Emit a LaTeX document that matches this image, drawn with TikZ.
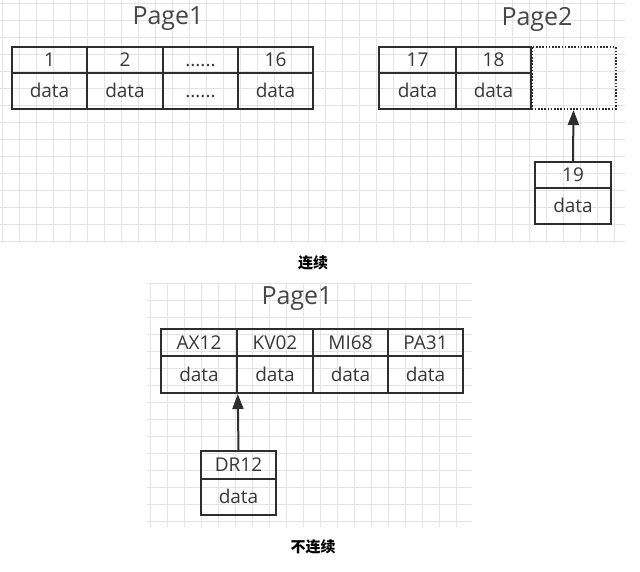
\documentclass[tikz,border=0pt]{standalone}
\usepackage{fontspec}
\setmainfont{Open Sans}
\newfontfamily\cjk{Noto Sans CJK SC}
\usetikzlibrary{arrows.meta}
\begin{document}
\begin{tikzpicture}[x=1pt,y=-1pt,
 gridline/.style={draw=black!11,line width=0.8pt},
 cell/.style={draw=black!82,line width=2pt,minimum width=75.5pt,inner sep=0pt,text height=13.6pt,text depth=0pt,font=\fontsize{19}{19}\selectfont,text=black!78},
 keycell/.style={cell,minimum height=26pt},
 datacell/.style={cell,minimum height=36pt},
 emptycell/.style={draw=black!82,line width=2pt,dash pattern=on 1.6pt off 1.6pt,minimum width=84pt,minimum height=62pt,inner sep=0pt},
 pagetitle/.style={font=\fontsize{25}{25}\selectfont,text=black!72},
 caption/.style={font=\cjk\bfseries\fontsize{15}{15}\selectfont},
 link/.style={draw=black!82,line width=2pt,-{Triangle[length=15pt,width=11pt]}}
]
\useasboundingbox (0,0) rectangle (640,571);
\fill[white] (0,0) rectangle (640,571);
% grids
\foreach \x in {2,19,...,623} \draw[gridline] (\x,0) -- (\x,243);
\foreach \y in {3,20,...,243} \draw[gridline] (0,\y) -- (625,\y);
\foreach \x in {150,167,...,472} \draw[gridline] (\x,283) -- (\x,527);
\foreach \y in {283,300,...,527} \draw[gridline] (147,\y) -- (472,\y);

% top Page1
\node[pagetitle] (t1) at (168,19) {Page1};
\node[keycell] (k1) at (49.5,60) {1};
\node[keycell] (k2) at (125,60) {2};
\node[keycell] (k3) at (200.5,60) {......};
\node[keycell] (k4) at (275.5,60) {16};
\node[datacell] (d1) at (49.5,91) {data};
\node[datacell] (d2) at (125,91) {data};
\node[datacell] (d3) at (200.5,91) {......};
\node[datacell] (d4) at (275.5,91) {data};

% Page2
\node[pagetitle] (t2) at (537,19) {Page2};
\node[keycell,minimum width=77pt] (k17) at (417.5,60) {17};
\node[keycell] (k18) at (493.5,60) {18};
\node[datacell,minimum width=77pt] (d17) at (417.5,91) {data};
\node[datacell] (d18) at (493.5,91) {data};
\node[emptycell] (slot) at (573.5,78) {};
\node[keycell] (k19) at (573,175) {19};
\node[datacell] (d19) at (573,206) {data};
\draw[link] (k19.north) -- (slot.south);

\node[caption] (c1) at (313,263) {连续};

% bottom Page1
\node[pagetitle] (t3) at (297,299) {Page1};
\node[keycell,minimum height=27pt] (ka) at (199,342.5) {AX12};
\node[keycell,minimum height=27pt] (kb) at (275,342.5) {KV02};
\node[keycell,minimum height=27pt] (kc) at (350.5,342.5) {MI68};
\node[keycell,minimum height=27pt] (kd) at (425.5,342.5) {PA31};
\node[datacell,minimum height=37pt] (da) at (199,374.5) {data};
\node[datacell,minimum height=37pt] (db) at (275,374.5) {data};
\node[datacell,minimum height=37pt] (dc) at (350.5,374.5) {data};
\node[datacell,minimum height=37pt] (dd) at (425.5,374.5) {data};
\node[keycell,minimum height=28pt] (kdr) at (238.5,465) {DR12};
\node[datacell] (ddr) at (238.5,497) {data};
\draw[link] (kdr.north) -- (da.south east);

\node[caption] (c2) at (313,547) {不连续};
\end{tikzpicture}
\end{document}
